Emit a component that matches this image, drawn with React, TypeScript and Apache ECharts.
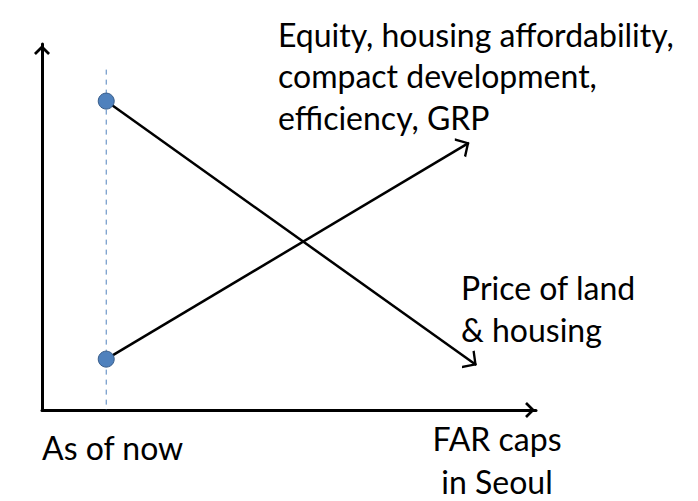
import React, { useEffect, useRef } from 'react';
import * as echarts from 'echarts';

const FONT = 'Lato, "Open Sans", sans-serif';

// axis units: x 0..100 (FAR caps), y 0..100
const nowX = 13;
const dashTop = 93;
const priceLine = [[13, 84.4], [87.9, 12.3]];
const equityLine = [[13, 13.9], [86.4, 73]];
const nowPoints = [[13, 84.4], [13, 13.9]];

const topLabel = ['Equity, housing affordability,', 'compact development,', 'efficiency, GRP'];
const priceLabel = ['Price of land', '& housing'];
const xName = ['FAR caps', 'in Seoul'];
const nowLabel = 'As of now';

// open chevrons, tip on top
const axisArrow = 'path://M10,0 L20,10 L17.6,12.4 L10,4.8 L2.4,12.4 L0,10 Z';
// empty move above the tip so the tip sits at the symbol centre (line end)
const lineArrow = 'path://M10,-11 Z M10,0 L19,11 L17.3,12.4 L10,3.4 L2.7,12.4 L1,11 Z';

const App: React.FC = () => {
  const chartRef = useRef<HTMLDivElement>(null);

  useEffect(() => {
    document.body.style.margin = '0';
    if (!chartRef.current) return;
    const chart = echarts.init(chartRef.current, undefined, { renderer: 'svg' });

    const axisCommon = {
      type: 'value',
      min: 0,
      max: 100,
      axisLine: {
        show: true,
        symbol: ['none', axisArrow],
        symbolSize: [16, 13],
        symbolOffset: [0, -6],
        lineStyle: { color: '#000', width: 3 },
      },
      axisTick: { show: false },
      axisLabel: { show: false },
      splitLine: { show: false },
    };

    const textLines = (lines: string[], x: number, y0: number, gap: number, align = 'left') =>
      lines.map((t, i) => ({
        type: 'text',
        style: {
          text: t,
          x,
          y: y0 + i * gap,
          font: `32px ${FONT}`,
          fill: '#000',
          align,
          verticalAlign: 'middle',
        },
      }));

    chart.setOption({
      animation: false,
      grid: { left: 42, right: 162, top: 44, bottom: 91 },
      xAxis: axisCommon,
      yAxis: axisCommon,
      series: [
        {
          type: 'line',
          data: [[nowX, dashTop], [nowX, 0]],
          symbol: 'none',
          lineStyle: { color: '#4F81BD', width: 1, type: [5, 5] },
          z: 1,
        },
        {
          type: 'lines',
          coordinateSystem: 'cartesian2d',
          data: [{ coords: priceLine }, { coords: equityLine }],
          symbol: ['none', lineArrow],
          symbolSize: 22,
          lineStyle: { color: '#000', width: 2.5, opacity: 1 },
          z: 2,
        },
        {
          type: 'scatter',
          data: nowPoints,
          symbolSize: 16,
          itemStyle: { color: '#4F81BD', borderColor: '#385D8A', borderWidth: 1, opacity: 1 },
          z: 3,
        },
      ],
      graphic: [
        ...textLines(topLabel, 278, 34, 41.5),
        ...textLines(priceLabel, 461, 287, 42),
        ...textLines(xName, 497, 438, 43, 'center'),
        ...textLines([nowLabel], 42, 447, 0),
      ],
    });

    return () => chart.dispose();
  }, []);

  return <div ref={chartRef} style={{ width: 698, height: 501 }} />;
};

export default App;
